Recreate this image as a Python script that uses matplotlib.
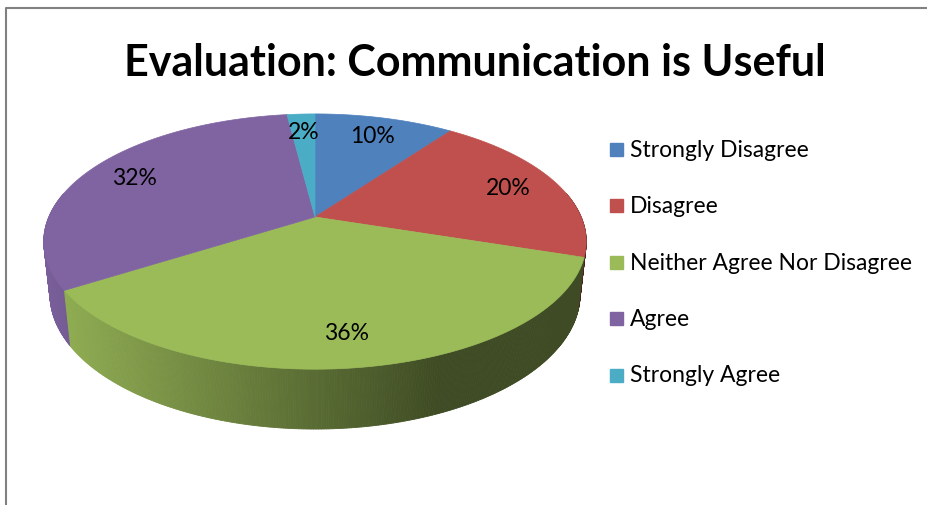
import numpy as np
import matplotlib
matplotlib.use("Agg")
import matplotlib.pyplot as plt
from matplotlib.collections import PolyCollection
from matplotlib.colors import to_rgb

# data
categorias = ["Strongly Disagree", "Disagree", "Neither Agree Nor Disagree",
              "Agree", "Strongly Agree"]
percentuais = [10, 20, 36, 32, 2]
cores = ["#4F81BD", "#C0504D", "#9BBB59", "#8064A2", "#4BACC6"]
titulo = "Evaluation: Communication is Useful"

plt.rcParams['font.family'] = ['Lato', 'DejaVu Sans']

fig = plt.figure(figsize=(9.28, 5.06), dpi=100)
ax = fig.add_axes([0, 0, 1, 1])
ax.set_xlim(0, 928)
ax.set_ylim(506, 0)
ax.axis('off')

# camera for the 3d pie (pixel space)
cx, cy = 315, 218
elev = np.radians(27.5)
D, F = 4.61, 1227.0
esp = 0.225   # thickness


def proj(X, Y, Z=0.0):
    prof = D + Y * np.cos(elev) - Z * np.sin(elev)
    sx = F * X / prof
    sy = F * (Y * np.sin(elev) + Z * np.cos(elev)) / prof
    return cx + sx, cy - sy


total = sum(percentuais)
fracs = np.cumsum([0] + percentuais) / total
angs = np.radians(90 - 360 * fracs)   # clockwise from 12 o'clock

# side faces
segs, segcores, segprof = [], [], []
xmin, xmax = proj(-1.02, 0)[0], proj(1.02, 0)[0]
for i in range(len(percentuais)):
    t = np.linspace(angs[i], angs[i + 1], max(3, int(percentuais[i] * 8)))
    base = np.array(to_rgb(cores[i]))
    for a, b in zip(t[:-1], t[1:]):
        if np.sin((a + b) / 2) > 0.2:
            continue
        x1, y1 = proj(np.cos(a), np.sin(a))
        x2, y2 = proj(np.cos(b), np.sin(b))
        x3, y3 = proj(np.cos(b), np.sin(b), -esp)
        x4, y4 = proj(np.cos(a), np.sin(a), -esp)
        u = ((x1 + x2) / 2 - xmin) / (xmax - xmin)
        fator = max(0.40, 0.95 - 0.75 * u)
        segs.append([(x1, y1), (x2, y2), (x3, y3), (x4, y4)])
        segcores.append(np.clip(base * fator, 0, 1))
        segprof.append(np.sin((a + b) / 2))
ordem = np.argsort(segprof)[::-1]
ax.add_collection(PolyCollection([segs[k] for k in ordem],
                                 facecolors=[segcores[k] for k in ordem],
                                 edgecolors=[segcores[k] for k in ordem],
                                 linewidths=0.6))

# top face
for i in range(len(percentuais)):
    t = np.linspace(angs[i], angs[i + 1], 200)
    px, py = proj(np.cos(t), np.sin(t))
    xs = np.concatenate([[cx], px])
    ys = np.concatenate([[cy], py])
    ax.fill(xs, ys, color=cores[i], lw=0.5, ec=cores[i])

# labels
for i in range(len(percentuais)):
    m = (angs[i] + angs[i + 1]) / 2
    r = 0.8
    lx, ly = proj(r * np.cos(m), r * np.sin(m))
    ax.text(lx, ly, f"{percentuais[i]}%", ha='center', va='center',
            fontsize=16.5, color='black')

# title
ax.text(475, 63, titulo, ha='center', va='center', fontsize=31,
        fontweight='bold')

# legend
for i, nome in enumerate(categorias):
    yy = 150 + i * 56.5
    ax.add_patch(plt.Rectangle((610, yy - 6.5), 13, 13, color=cores[i]))
    ax.text(630, yy, nome, ha='left', va='center', fontsize=16.5)

# frame
ax.plot([6, 6, 928], [506, 9, 9], color='#808080', lw=1.5,
        solid_capstyle='butt')

fig.savefig("out.png", dpi=100)
